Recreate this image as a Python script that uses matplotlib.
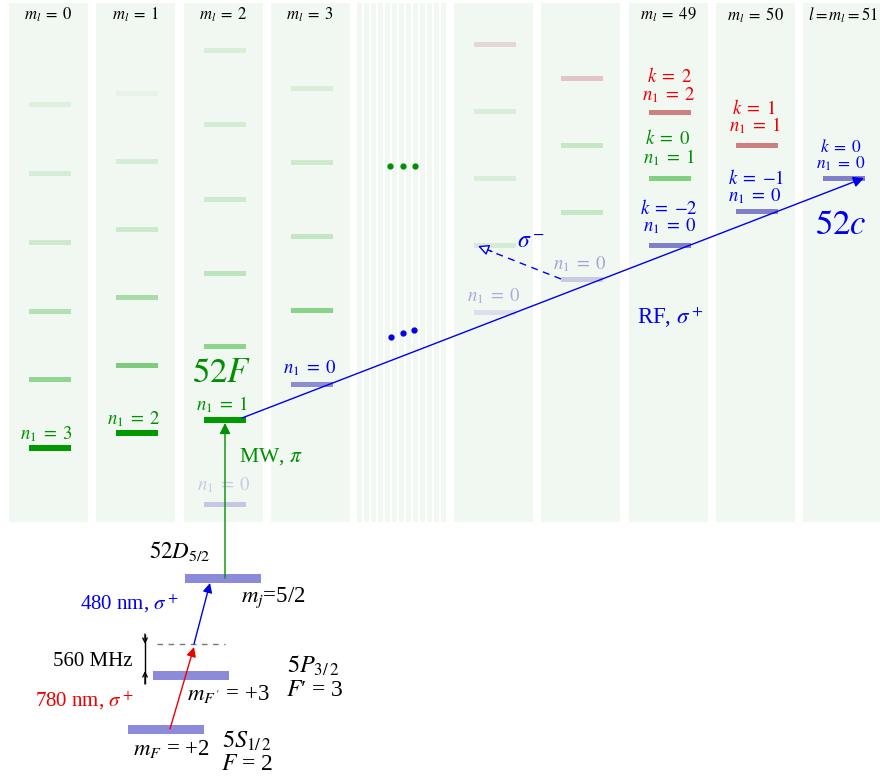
import numpy as np
import matplotlib
matplotlib.use('Agg')
import matplotlib.pyplot as plt

plt.rcParams['font.family'] = 'serif'
plt.rcParams['font.serif'] = ['Liberation Serif', 'DejaVu Serif']
plt.rcParams['mathtext.fontset'] = 'stix'

# ---- data: level energies (drawn on a pixel-like energy axis, top = high) ----
headers = ['$m_l = 0$', '$m_l = 1$', '$m_l = 2$', '$m_l = 3$', '', '',
           '$m_l = 49$', '$m_l = 50$', '$l = m_l = 51$']

# energies of the levels in each m_l column
levels_ml0 = [104, 173, 242, 311, 379, 448]
levels_ml1 = [93, 161, 229, 297, 365, 433]
levels_ml2 = [50, 124, 199, 273, 346, 420, 504]
levels_ml3 = [88, 162, 236, 310, 384]
levels_mid1 = [44, 111, 178, 245, 312]
levels_mid2 = [78, 145, 212, 279]
levels_ml49 = [112, 178, 245]
levels_ml50 = [145, 211]
levels_ml51 = [178]
all_levels = [levels_ml0, levels_ml1, levels_ml2, levels_ml3, levels_mid1,
              levels_mid2, levels_ml49, levels_ml50, levels_ml51]

# low lying states: 5S1/2, 5P3/2, intermediate (detuned), 52D5/2
low_levels = [729, 675, 578]
virtual_level = 644

# ---- styles ----
bar_colors = [
    ['#ddf0dd', '#d5edd5', '#cdeacd', '#b4e1b4', '#92d492', '#009900'],
    ['#e6f3e6', '#d5edd5', '#cbe9cb', '#a8dca8', '#7fcc7f', '#009900'],
    ['#d8eed8', '#d3ecd3', '#cdeacd', '#bde4bd', '#8ed38e', '#009900', '#c4c8e6'],
    ['#d8eed8', '#cdeacd', '#c3e6c3', '#8ad18a', '#8c8cd0'],
    ['#e6d6d6', '#d8eed8', '#d8eed8', '#d3ecd3', '#dcdfea'],
    ['#e2c4c4', '#c4e8c4', '#c4e8c4', '#c8cbe2'],
    ['#cc8080', '#80d080', '#8080c8'],
    ['#cc8080', '#8080c8'],
    ['#8080c8'],
]
col_left = [9, 96, 184, 271, 454, 541, 629, 716, 803]
col_width = 79
bar_off, bar_w = 20, 42
bg = '#f1f7f1'
BLUE, GREEN, RED = '#0000ee', '#008f00', '#ee0000'
low_color = '#8b8bd9'


def m(s):
    # wider spacing around "=" like TeX relations
    return s.replace(' = ', r'\;=\;')


fig = plt.figure(figsize=(8.8, 7.8), dpi=100)
ax = fig.add_axes([0, 0, 1, 1])
ax.set_xlim(0, 880)
ax.set_ylim(780, 0)
ax.axis('off')

# column backgrounds
ax.bar(col_left, 519, bottom=3, width=[col_width] * 8 + [77], align='edge', color=bg, zorder=0)
stripes = 357.3 + 7 * np.arange(13)
ax.bar(stripes, 519, bottom=3, width=4.4, align='edge', color=bg, zorder=0)

# levels
for i, (lev, cols) in enumerate(zip(all_levels, bar_colors)):
    hts = [6 if c == '#009900' else 5 for c in cols]
    ax.barh(lev, bar_w, left=col_left[i] + bar_off, height=hts, color=cols, zorder=2)

# column headers
for i, h in enumerate(headers):
    if h:
        txt = m(h) if i < 8 else h
        ax.text(col_left[i] + col_width / 2, 15, txt, ha='center', va='center', fontsize=12)

# ellipsis dots
ax.plot([390, 402.5, 415], [166, 166, 166], 'o', color=GREEN, ms=3.5, zorder=3)
ax.plot([391, 402.5, 414], [337, 333, 329.5], 'o', color=BLUE, ms=3.5, zorder=3)

# ---- labels in the Rydberg manifold ----
fs = 13.5
def lab(x, y, s, c, size=fs, wide=True):
    ax.text(x, y, m(s) if wide else s, color=c, ha='center', va='center', fontsize=size)

lab(46, 434, '$n_1 = 3$', GREEN)
lab(134, 419, '$n_1 = 2$', GREEN)
lab(222, 405, '$n_1 = 1$', GREEN)
lab(222, 374, '$52F$', GREEN, 25)
lab(310, 368, '$n_1 = 0$', BLUE)
lab(224, 485, '$n_1 = 0$', '#c8cbe8')
lab(271, 457, r'MW, $\pi$', GREEN, 15.5)
lab(494, 296, '$n_1 = 0$', '#a9addf')
lab(580, 264, '$n_1 = 0$', '#a0a4dc')
lab(531, 242, r'$\sigma^-$', BLUE, 17)
lab(670, 317, r'RF, $\sigma^+$', BLUE, 16.5)

lab(669, 77, '$k = 2$', RED)
lab(669, 95, '$n_1 = 2$', RED)
lab(668, 139, '$k = 0$', GREEN)
lab(669, 158, '$n_1 = 1$', GREEN)
lab(669, 208, '$k = {-}2$', BLUE)
lab(670, 226, '$n_1 = 0$', BLUE)
lab(754, 108, '$k = 1$', RED)
lab(755, 126, '$n_1 = 1$', RED)
lab(756, 178, '$k = {-}1$', BLUE)
lab(755, 196, '$n_1 = 0$', BLUE)
lab(841, 148, '$k = 0$', BLUE, 12.5)
lab(841, 164, '$n_1 = 0$', BLUE, 12.5)
lab(841, 226, '$52c$', BLUE, 25)

# ---- transitions ----
x_start = col_left[2] + bar_off + bar_w - 4
x_end = col_left[8] + bar_off + bar_w - 1
ax.annotate('', xy=(x_end, levels_ml51[0]), xytext=(x_start, levels_ml2[5] - 2),
            arrowprops=dict(arrowstyle='-|>', color=BLUE, lw=1, shrinkA=0, shrinkB=0,
                            mutation_scale=16), zorder=4)

# dashed sigma- arrow
x0, y0 = col_left[5] + bar_off, levels_mid2[3]
x1, y1 = col_left[4] + bar_off + 4, levels_mid1[3] + 1
ax.plot([x0, x1 + 12], [y0, y1 + 5], '--', color=BLUE, lw=1, dashes=(5, 4), zorder=4)
ax.annotate('', xy=(x1, y1), xytext=(x1 + 14, y1 + 5.5),
            arrowprops=dict(arrowstyle='-|>', ec=BLUE, fc=bg, lw=1, shrinkA=0, shrinkB=0,
                            mutation_scale=16), zorder=4)

# microwave transition 52D -> 52F
x_mw = col_left[2] + bar_off + bar_w / 2
ax.annotate('', xy=(x_mw, levels_ml2[5] + 3), xytext=(x_mw, low_levels[2]),
            arrowprops=dict(arrowstyle='-|>', color=GREEN, lw=1, shrinkA=0, shrinkB=0,
                            mutation_scale=16), zorder=4)

# low lying levels
ax.barh(low_levels, 76, left=[128, 153, 185], height=9, color=low_color, zorder=2)
ax.plot([157, 225], [virtual_level, virtual_level], '--', color='#777777', lw=1, dashes=(4, 4))

# 780 nm and 480 nm
ax.annotate('', xy=(194, virtual_level + 3), xytext=(170, low_levels[0]),
            arrowprops=dict(arrowstyle='-|>', color=RED, lw=1, shrinkA=0, shrinkB=0,
                            mutation_scale=14), zorder=4)
ax.annotate('', xy=(210, low_levels[2] + 5), xytext=(194, virtual_level),
            arrowprops=dict(arrowstyle='-|>', color=BLUE, lw=1, shrinkA=0, shrinkB=0,
                            mutation_scale=14), zorder=4)

# 560 MHz detuning marker
ax.plot([145, 145], [635, 683], color='black', lw=1)
ax.annotate('', xy=(145, virtual_level), xytext=(145, 634),
            arrowprops=dict(arrowstyle='->', color='black', lw=1, shrinkA=0, shrinkB=0, mutation_scale=8))
ax.annotate('', xy=(145, low_levels[1] - 4), xytext=(145, 684),
            arrowprops=dict(arrowstyle='->', color='black', lw=1, shrinkA=0, shrinkB=0, mutation_scale=8))

# ---- low level labels ----
K = 'black'
lab(180, 551, '$52D_{5/2}$', K, 16.5, False)
lab(273, 598, '$m_j$=5/2', K, 16.5, False)
lab(129, 604, r'480 nm, $\sigma^+$', BLUE, 15, False)
lab(93, 661, '560 MHz', K, 15, False)
lab(84, 701, r'780 nm, $\sigma^+$', RED, 15, False)
lab(313, 666, '$5P_{3/\\,2}$', K, 17.5, False)
lab(315, 690, '$F$\u2032 = 3', K, 17, False)
lab(228, 694, "$m_{F'}$ = +3", K, 16.5, False)
lab(171, 749, '$m_F$ = +2', K, 16.5, False)
lab(247, 741, '$5S_{1/\\,2}$', K, 17.5, False)
lab(247, 764, '$F$ = 2', K, 17, False)

fig.savefig('out.png', dpi=100)
